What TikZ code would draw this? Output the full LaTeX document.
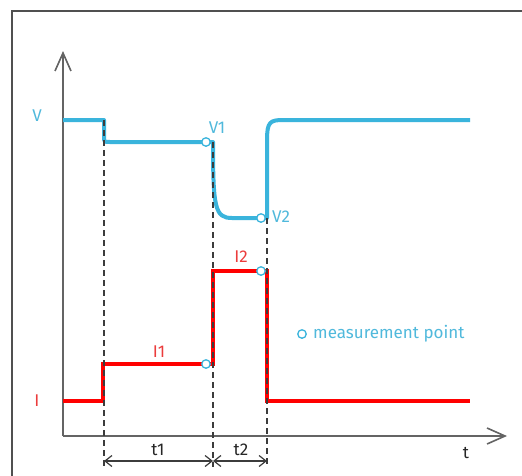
\documentclass[tikz,border=0pt]{standalone}
\usepackage{fontspec}
\setmainfont{Fira Sans}
\usetikzlibrary{arrows.meta}
\definecolor{vblue}{RGB}{58,180,220}
\definecolor{vbluetxt}{RGB}{80,185,220}
\definecolor{ired}{RGB}{255,0,0}
\definecolor{iredtxt}{RGB}{235,60,60}
\definecolor{axisgray}{RGB}{100,100,100}
\definecolor{dashgray}{RGB}{60,60,60}
\tikzset{
  frameline/.style={draw=axisgray!80!black, line width=1.2pt},
  axisline/.style={draw=axisgray, line width=1.6pt, -{Straight Barb[length=18pt,width=16pt,line width=1.6pt]}},
  vcurve/.style={draw=vblue, line width=4pt, line join=round},
  icurve/.style={draw=ired, line width=4pt, line join=miter},
  guide/.style={draw=dashgray, line width=1.2pt, dash pattern=on 6pt off 4pt},
  dimline/.style={draw=dashgray, line width=1.2pt, {Straight Barb[length=7pt,width=11pt,line width=1.2pt]}-{Straight Barb[length=7pt,width=11pt,line width=1.2pt]}},
  mpoint/.style={circle, draw=vblue, line width=1.3pt, minimum size=8.5pt, inner sep=0pt, fill=white},
  vlabel/.style={text=vbluetxt, font=\fontsize{17}{19}\selectfont, inner sep=0pt},
  ilabel/.style={text=iredtxt, font=\fontsize{17}{19}\selectfont, inner sep=0pt},
  tlabel/.style={text=black!85, font=\fontsize{17}{19}\selectfont, inner sep=0pt},
}
\begin{document}
\begin{tikzpicture}[x=1pt,y=-1pt]
\useasboundingbox (0,0) rectangle (522,475);
\fill[white] (0,0) rectangle (522,475);
% frame
\coordinate (fbl) at (12,476);
\coordinate (ftl) at (12,11);
\coordinate (ftr) at (523,11);
\draw[frameline] (fbl) -- (ftl) -- (ftr);
% axes
\coordinate (O) at (63,436);
\coordinate (ytop) at (63,51);
\coordinate (xend) at (507,436);
\draw[axisline] (O) -- (ytop);
\draw[axisline] (O) -- (xend);
% key coordinates
\coordinate (v0) at (63,120);
\coordinate (va) at (104,120);
\coordinate (vb) at (104,136);
\coordinate (vc) at (110,142);
\coordinate (v1) at (206,142);
\coordinate (vd) at (213,142);
\coordinate (ve) at (232,218);
\coordinate (v2) at (261,218);
\coordinate (vf) at (267,218);
\coordinate (vg) at (267,140);
\coordinate (vh) at (283,120);
\coordinate (vend) at (470,120);
% voltage curve
\draw[vcurve] (v0) -- (va) -- (vb) .. controls (104,142) .. (vc) -- (vd)
  .. controls (213,208) and (215,218) .. (ve) -- (vf) -- (vg)
  .. controls (267,122) and (270,120) .. (vh) -- (vend);
% current curve
\coordinate (i0) at (63,401);
\coordinate (ia) at (102.5,401);
\coordinate (ib) at (102.5,364);
\coordinate (i1) at (206,364);
\coordinate (ic) at (213,364);
\coordinate (id) at (213,271);
\coordinate (i2) at (261,271);
\coordinate (ie) at (267,271);
\coordinate (if) at (267,401);
\coordinate (iend) at (470,401);
\draw[icurve] (i0) -- (ia) -- (ib) -- (ic) -- (id) -- (ie) -- (if) -- (iend);
% guides
\coordinate (g1t) at (104,120);
\coordinate (g1b) at (104,467);
\coordinate (g2t) at (213,142);
\coordinate (g2b) at (213,467);
\coordinate (g3t) at (267,218);
\coordinate (g3b) at (267,467);
\draw[guide] (g1t) -- (g1b);
\draw[guide] (g2t) -- (g2b);
\draw[guide] (g3t) -- (g3b);
% dimensions
\coordinate (d1) at (104,461);
\coordinate (d2) at (213,461);
\coordinate (d3) at (267,461);
\draw[dimline] (d1) -- (d2);
\draw[dimline] (d2) -- (d3);
\node[tlabel] (t1) at (158,450) {t1};
\node[tlabel] (t2) at (241,450) {t2};
\node[tlabel] (t) at (466,453) {t};
% measurement points
\node[mpoint] (mv1) at (v1) {};
\node[mpoint] (mv2) at (v2) {};
\node[mpoint] (mi1) at (i1) {};
\node[mpoint] (mi2) at (i2) {};
% labels
\node[vlabel] (V) at (37,116) {V};
\node[vlabel] (V1) at (217,128) {V1};
\node[vlabel] (V2) at (281,217) {V2};
\node[ilabel] (I) at (37,401) {I};
\node[ilabel] (I1) at (159,352) {I1};
\node[ilabel] (I2) at (241,257) {I2};
\node[mpoint] (legc) at (302,334) {};
\node[vlabel, anchor=west] (legt) at (313,334) {measurement point};
\end{tikzpicture}
\end{document}
